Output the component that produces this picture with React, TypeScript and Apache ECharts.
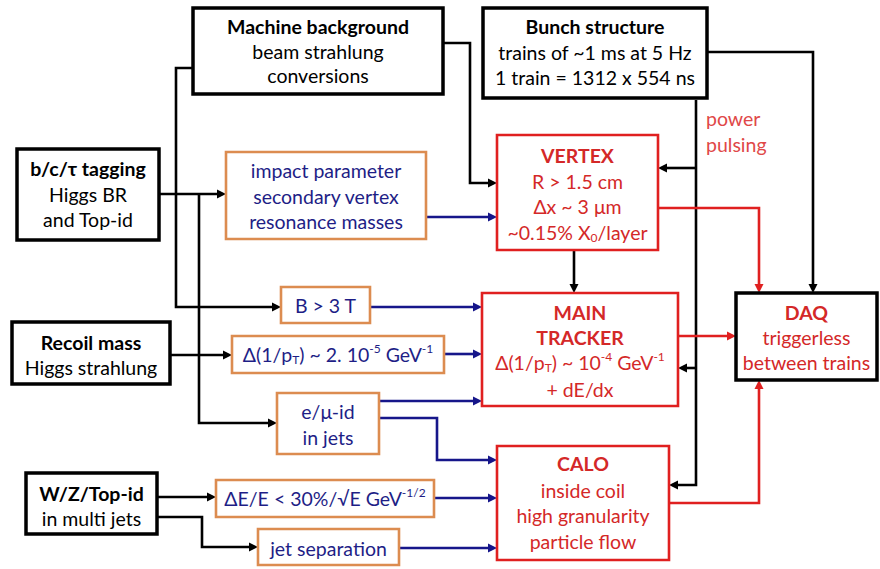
import React, { useEffect, useRef } from "react";
import * as echarts from "echarts";

// ---- content (texts) ----
const machineText = ["Machine background", "beam strahlung", "conversions"];
const bunchText = ["Bunch structure", "trains of ~1 ms at 5 Hz", "1 train = 1312 x 554 ns"];
const tagText = ["b/c/τ tagging", "Higgs BR", "and Top-id"];
const recoilText = ["Recoil mass", "Higgs strahlung"];
const wzText = ["W/Z/Top-id", "in multi jets"];
const impactText = ["impact parameter", "secondary vertex", "resonance masses"];
const bFieldText = ["B > 3 T"];
const ptResText = ["{n|Δ(1/p}{sub|T}{n|) ~ 2. 10}{sup|-5}{n| GeV}{sup|-1}"];
const lepText = ["e/μ-id", "in jets"];
const eResText = ["{n|ΔE/E < 30%/√E GeV}{sup|-1/2}"];
const jetText = ["jet separation"];
const vertexText = ["VERTEX", "R > 1.5 cm", "Δx ~ 3 μm", "{n|~0.15% X}{sub|0}{n|/layer}"];
const trackerText = ["MAIN", "TRACKER", "{n|Δ(1/p}{sub|T}{n|) ~ 10}{sup|-4}{n| GeV}{sup|-1}", "+ dE/dx"];
const daqText = ["DAQ", "triggerless", "between trains"];
const caloText = ["CALO", "inside coil", "high granularity", "particle flow"];
const pulsingText = ["power", "pulsing"];

// ---- styles ----
const BLACK = "#000000";
const BLUE = "#16168a";
const BLUE_TXT = "#1e1e86";
const ORANGE = "#dc8c50";
const RED = "#e02020";
const RED_TXT = "#d42828";
const FONT = "Lato, 'Open Sans', sans-serif";
const FS = 19.5;

type Box = { x: number; y: number; w: number; h: number; lines: string[]; ys: number[]; kind: "black" | "orange" | "red" | "daq"; boldFirst: boolean };

const boxes: Box[] = [
  { x: 193, y: 8, w: 250, h: 86, lines: machineText, ys: [26, 51, 75], kind: "black", boldFirst: true },
  { x: 483, y: 8, w: 224, h: 90, lines: bunchText, ys: [26, 52, 77], kind: "black", boldFirst: true },
  { x: 17, y: 149, w: 142, h: 91, lines: tagText, ys: [168, 194, 219], kind: "black", boldFirst: true },
  { x: 12, y: 322, w: 158, h: 62, lines: recoilText, ys: [342, 367], kind: "black", boldFirst: true },
  { x: 26, y: 473, w: 131, h: 61, lines: wzText, ys: [493, 518], kind: "black", boldFirst: true },
  { x: 226, y: 152, w: 200, h: 87, lines: impactText, ys: [170, 196, 221], kind: "orange", boldFirst: false },
  { x: 281, y: 287, w: 89, h: 36, lines: bFieldText, ys: [305], kind: "orange", boldFirst: false },
  { x: 232, y: 336, w: 212, h: 37, lines: ptResText, ys: [354], kind: "orange", boldFirst: false },
  { x: 277, y: 393, w: 102, h: 61, lines: lepText, ys: [411, 437], kind: "orange", boldFirst: false },
  { x: 216, y: 480, w: 218, h: 37, lines: eResText, ys: [498], kind: "orange", boldFirst: false },
  { x: 258, y: 529, w: 141, h: 36, lines: jetText, ys: [548], kind: "orange", boldFirst: false },
  { x: 497, y: 135, w: 161, h: 115, lines: vertexText, ys: [155, 181, 206, 232], kind: "red", boldFirst: true },
  { x: 482, y: 293, w: 196, h: 113, lines: trackerText, ys: [312, 337, 362, 389], kind: "red", boldFirst: true },
  { x: 736, y: 293, w: 141, h: 87, lines: daqText, ys: [312, 337, 362], kind: "daq", boldFirst: true },
  { x: 497, y: 446, w: 172, h: 114, lines: caloText, ys: [463, 490, 515, 541], kind: "red", boldFirst: true },
];

type Conn = { pts: number[][]; color: string; arrow: boolean };
const connections: Conn[] = [
  { pts: [[193, 68], [176, 68], [176, 307], [281, 307]], color: BLACK, arrow: true },
  { pts: [[443, 43], [470, 43], [470, 183], [497, 183]], color: BLACK, arrow: true },
  { pts: [[707, 52], [813, 52], [813, 293]], color: BLACK, arrow: true },
  { pts: [[696, 100], [696, 485], [669, 485]], color: BLACK, arrow: true },
  { pts: [[696, 168], [658, 168]], color: BLACK, arrow: true },
  { pts: [[696, 368], [678, 368]], color: BLACK, arrow: true },
  { pts: [[159, 194], [226, 194]], color: BLACK, arrow: true },
  { pts: [[199, 194], [199, 423], [277, 423]], color: BLACK, arrow: true },
  { pts: [[574, 250], [574, 293]], color: BLACK, arrow: true },
  { pts: [[170, 355], [232, 355]], color: BLACK, arrow: true },
  { pts: [[157, 497], [216, 497]], color: BLACK, arrow: true },
  { pts: [[157, 517], [202, 517], [202, 547], [258, 547]], color: BLACK, arrow: true },
  { pts: [[426, 217], [497, 217]], color: BLUE, arrow: true },
  { pts: [[370, 307], [482, 307]], color: BLUE, arrow: true },
  { pts: [[444, 354], [482, 354]], color: BLUE, arrow: true },
  { pts: [[379, 401], [482, 401]], color: BLUE, arrow: true },
  { pts: [[379, 418], [437, 418], [437, 460], [497, 460]], color: BLUE, arrow: true },
  { pts: [[434, 498], [497, 498]], color: BLUE, arrow: true },
  { pts: [[399, 548], [497, 548]], color: BLUE, arrow: true },
  { pts: [[658, 208], [759, 208], [759, 293]], color: RED, arrow: true },
  { pts: [[678, 336], [736, 336]], color: RED, arrow: true },
  { pts: [[669, 503], [759, 503], [759, 380]], color: RED, arrow: true },
];

function buildGraphics() {
  const els: any[] = [];
  connections.forEach((c) => {
    const pts = c.pts.map((p) => p.slice());
    const n = pts.length;
    const end = pts[n - 1];
    const prev = pts[n - 2];
    const dx = Math.sign(end[0] - prev[0]);
    const dy = Math.sign(end[1] - prev[1]);
    const L = 9, W = 4.5;
    const base = [end[0] - dx * L, end[1] - dy * L];
    pts[n - 1] = [base[0] + dx * 1, base[1] + dy * 1];
    els.push({
      type: "polyline",
      shape: { points: pts },
      style: { stroke: c.color, lineWidth: 2.6, fill: null, lineJoin: "miter" },
      z: 1,
    });
    if (c.arrow) {
      els.push({
        type: "polygon",
        shape: {
          points: [
            end,
            [base[0] - dy * W, base[1] + dx * W],
            [base[0] + dy * W, base[1] - dx * W],
          ],
        },
        style: { fill: c.color },
        z: 1,
      });
    }
  });
  const rich = (color: string, bold: boolean) => ({
    n: { fontSize: FS, fontFamily: FONT, fill: color, fontWeight: bold ? "bold" : "normal", lineHeight: 23 },
    sup: { fontSize: 12, fontFamily: FONT, fill: color, lineHeight: 13, verticalAlign: "top" },
    sub: { fontSize: 12, fontFamily: FONT, fill: color, lineHeight: 13, verticalAlign: "bottom" },
  });
  boxes.forEach((b) => {
    const stroke = b.kind === "orange" ? ORANGE : b.kind === "red" ? RED : BLACK;
    const lw = b.kind === "black" || b.kind === "daq" ? 3.5 : 2.6;
    els.push({
      type: "rect",
      shape: { x: b.x, y: b.y, width: b.w, height: b.h },
      style: { fill: "#ffffff", stroke, lineWidth: lw },
      z: 2,
    });
    const txtColor = b.kind === "orange" ? BLUE_TXT : b.kind === "red" || b.kind === "daq" ? RED_TXT : BLACK;
    b.lines.forEach((t, i) => {
      const bold = b.boldFirst && (i === 0 || (b.lines[0] === "MAIN" && i === 1));
      const style: any = {
        x: b.x + b.w / 2,
        y: b.ys[i],
        align: "center",
        verticalAlign: "middle",
        fill: txtColor,
        fontSize: FS,
        fontFamily: FONT,
        fontWeight: bold ? "bold" : "normal",
        text: t,
      };
      if (t.startsWith("{")) style.rich = rich(txtColor, bold);
      els.push({ type: "text", style, z: 3 });
    });
  });
  pulsingText.forEach((t, i) => {
    els.push({
      type: "text",
      style: { x: 706, y: [118, 144][i], text: t, align: "left", verticalAlign: "middle", fill: "#e04848", fontSize: FS, fontFamily: FONT },
      z: 3,
    });
  });
  return els;
}

export default function App() {
  const ref = useRef<HTMLDivElement>(null);
  useEffect(() => {
    if (!ref.current) return;
    const chart = echarts.init(ref.current, null, { renderer: "svg" });
    chart.setOption({
      animation: false,
      backgroundColor: "#ffffff",
      graphic: { elements: buildGraphics() },
    });
    return () => chart.dispose();
  }, []);
  return (
    <div
      ref={ref}
      style={{ position: "fixed", left: 0, top: 0, width: 880, height: 569, background: "#fff" }}
    />
  );
}
